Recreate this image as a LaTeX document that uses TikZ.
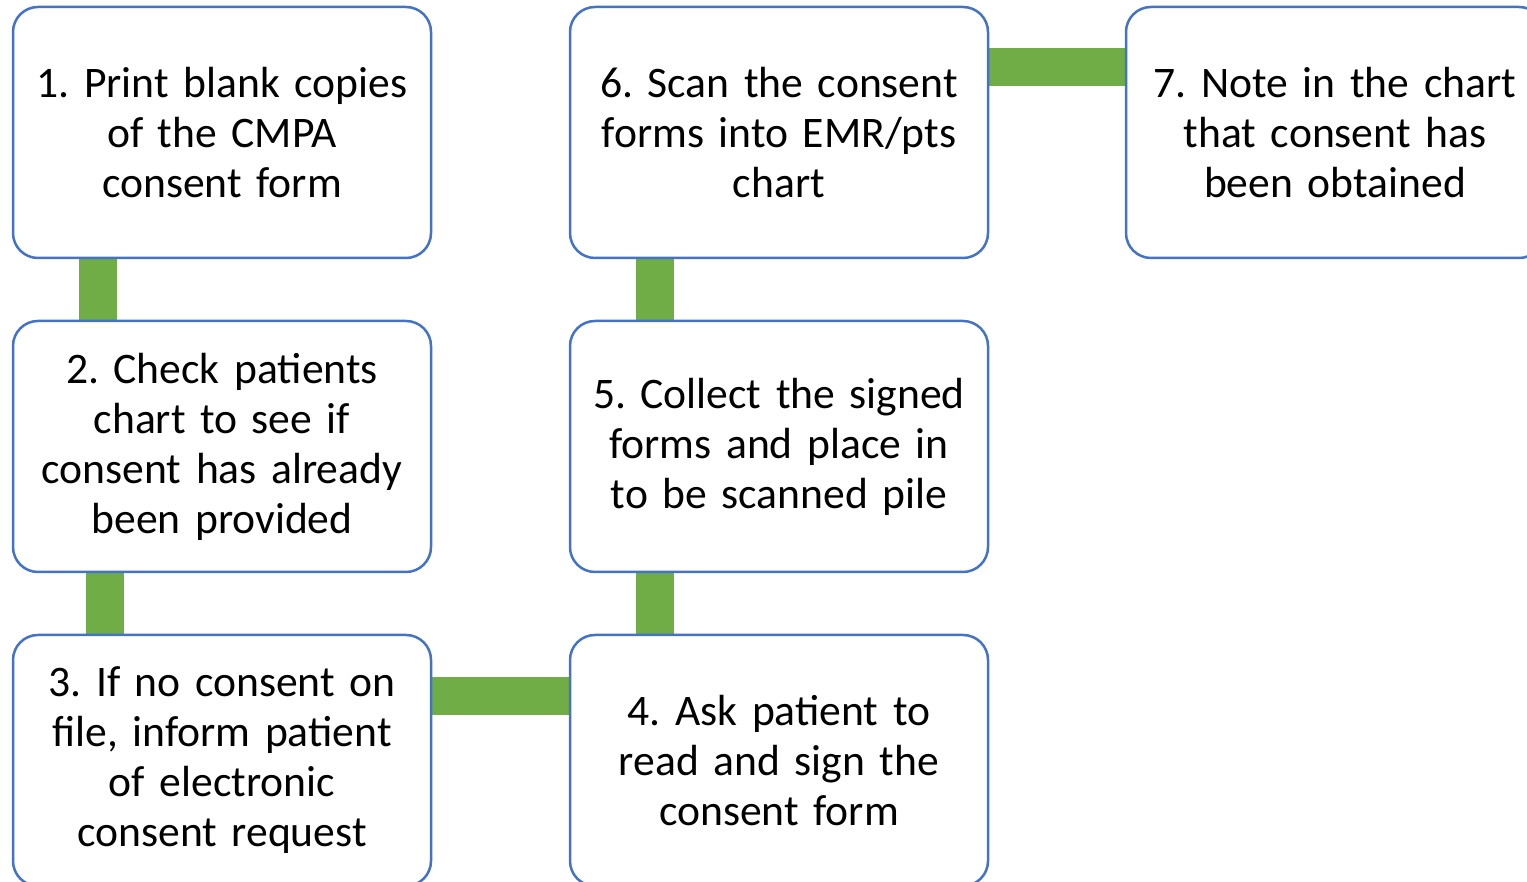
\documentclass[tikz,border=0pt]{standalone}
\usepackage{fontspec}
\setmainfont{Carlito}
\usetikzlibrary{backgrounds}
\definecolor{boxblue}{HTML}{4472C4}
\definecolor{conngreen}{HTML}{70AD47}
\begin{document}
\frenchspacing
\begin{tikzpicture}[x=1pt,y=1pt,
  stepbox/.style={draw=boxblue, line width=2.5pt, fill=white, rounded corners=25pt,
    minimum width=418pt, minimum height=251pt, inner sep=0pt, outer sep=0pt,
    text width=414pt, align=center, font=\fontsize{43.6}{50}\selectfont},
  conn/.style={draw=conngreen, line width=38pt}]
\useasboundingbox (0,0) rectangle (1527,882);
\clip (0,0) rectangle (1527,882);
\node[stepbox] (n1) at (222,749.5) {1. Print blank copies\\of the CMPA\\consent form};
\node[stepbox] (n2) at (222,435.5) {2. Check patients\\chart to see if\\consent has already\\been provided};
\node[stepbox] (n3) at (222,121.5) {3. If no consent on\\file, inform patient\\of electronic\\consent request};
\node[stepbox] (n4) at (779,121.5) {4. Ask patient to\\read and sign the\\consent form};
\node[stepbox] (n5) at (779,435.5) {5. Collect the signed\\forms and place in\\to be scanned pile};
\node[stepbox] (n6) at (779,749.5) {6. Scan the consent\\forms into EMR/pts\\chart};
\node[stepbox] (n7) at (1335,749.5) {7. Note in the chart\\that consent has\\been obtained};
\begin{scope}[on background layer]
\draw[conn] ([xshift=-124pt]n1.south) -- ([xshift=-124pt]n2.north);
\draw[conn] ([xshift=-117pt]n2.south) -- ([xshift=-117pt]n3.north);
\draw[conn] ([yshift=64.5pt]n3.east) -- ([yshift=64.5pt]n4.west);
\draw[conn] ([xshift=-124.5pt]n4.north) -- ([xshift=-124.5pt]n5.south);
\draw[conn] ([xshift=-124.5pt]n5.north) -- ([xshift=-124.5pt]n6.south);
\draw[conn] ([yshift=65pt]n6.east) -- ([yshift=65pt]n7.west);
\end{scope}
\end{tikzpicture}
\end{document}
